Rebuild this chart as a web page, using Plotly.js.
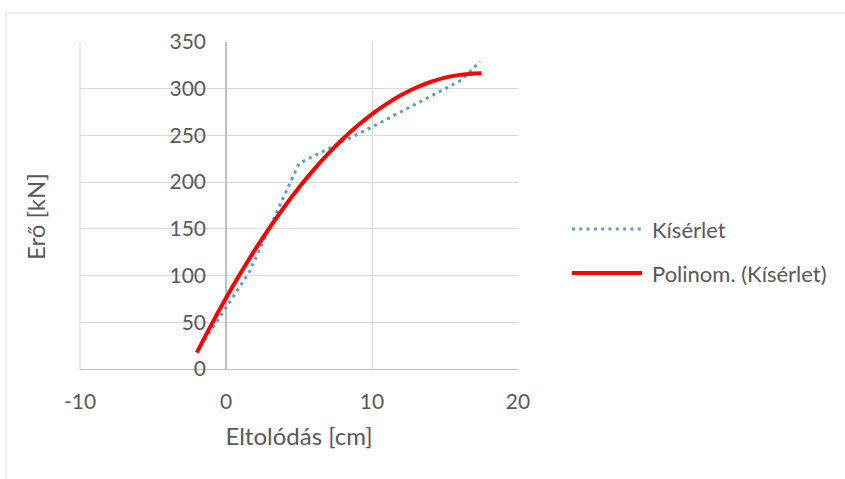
<!DOCTYPE html>
<html>
<head>
<meta charset="utf-8">
<script src="https://cdn.plot.ly/plotly-3.0.1.min.js"></script>
<style>html,body{margin:0;padding:0;background:#fff;}#chart{width:845px;height:479px;}</style>
</head>
<body>
<div id="chart"></div>
<script>
// Measured series: "Kísérlet"
const expX = [-2.0, 1.6, 5.0, 10.0, 16.1, 17.4];
const expY = [18, 104, 220, 259, 309, 329];
// Polynomial trendline values
const fitX = [-2, -1, 0, 1, 2, 3, 4, 5, 6, 7, 8, 9, 10, 11, 12, 13, 14, 15, 16, 17, 17.5];
const fitY = [17.5, 47.5, 75.9, 102.7, 128.0, 151.6, 173.7, 194.2, 213.1, 230.4, 246.2, 260.3, 272.9, 283.8, 293.2, 301.0, 307.2, 311.9, 314.8, 316.3, 316.6];
const seriesNames = ["Kísérlet", "Polinom. (Kísérlet)"];
const xTicks = [-10, 0, 10, 20];
const yTicks = [0, 50, 100, 150, 200, 250, 300, 350];
const xTitle = "Eltolódás [cm]";
const yTitle = "Erő [kN]";

const FONT = "Lato, 'Open Sans', sans-serif";
const TXT = "#595959";
const L = 80, R = 518, T = 42, B = 369;
const px = v => (v - L) / (R - L);
const py = v => (B - v) / (B - T);

const traces = [
  {x: expX, y: expY, name: seriesNames[0], mode: 'lines', showlegend: false,
   line: {color: '#5B9BD5', width: 3, dash: '3px,4.3px'}},
  {x: fitX, y: fitY, name: seriesNames[1], mode: 'lines', showlegend: false,
   line: {color: '#FF0000', width: 4, shape: 'spline'}}
];

const layout = {
  width: 845, height: 479,
  margin: {l: L, r: 845 - R, t: T, b: 479 - B},
  paper_bgcolor: '#fff', plot_bgcolor: '#fff',
  font: {family: FONT, color: TXT, size: 21},
  showlegend: false,
  xaxis: {
    range: [-10, 20], tickvals: xTicks, ticktext: xTicks.map(String),
    showgrid: true, gridcolor: '#D9D9D9', gridwidth: 1,
    zeroline: true, zerolinecolor: '#BFBFBF', zerolinewidth: 1.3,
    showline: true, linecolor: '#BFBFBF', linewidth: 1.3,
    ticks: '', ticklabelstandoff: 13,
    tickfont: {family: FONT, color: TXT, size: 21},
    title: {text: xTitle, font: {family: FONT, color: TXT, size: 24}, standoff: 16}
  },
  yaxis: {
    range: [0, 350], tickvals: yTicks, ticktext: yTicks.map(String),
    anchor: 'free', position: 1/3,
    showgrid: true, gridcolor: '#D9D9D9', gridwidth: 1,
    zeroline: false, showline: false,
    ticks: '', ticklabelstandoff: 20,
    tickfont: {family: FONT, color: TXT, size: 21}
  },
  shapes: [
    {type: 'rect', xref: 'paper', yref: 'paper', x0: px(6), x1: px(900), y0: py(520), y1: py(13),
     line: {color: '#D9D9D9', width: 1}, fillcolor: 'rgba(0,0,0,0)', layer: 'below'},
    {type: 'line', xref: 'paper', yref: 'paper', x0: px(80), x1: px(80), y0: 0, y1: 1,
     line: {color: '#D9D9D9', width: 1}, layer: 'below'},
    {type: 'line', xref: 'paper', yref: 'paper', x0: px(572), x1: px(642), y0: py(229), y1: py(229),
     line: {color: '#5B9BD5', width: 3, dash: '3px,4.3px'}},
    {type: 'line', xref: 'paper', yref: 'paper', x0: px(572), x1: px(642), y0: py(273), y1: py(273),
     line: {color: '#FF0000', width: 4}}
  ],
  annotations: [
    {xref: 'paper', yref: 'paper', x: px(35), y: py(217), text: yTitle, textangle: -90,
     showarrow: false, xanchor: 'center', yanchor: 'middle', font: {family: FONT, color: TXT, size: 24}},
    {xref: 'paper', yref: 'paper', x: px(650), y: py(229), text: seriesNames[0],
     showarrow: false, xanchor: 'left', yanchor: 'middle', font: {family: FONT, color: TXT, size: 22}},
    {xref: 'paper', yref: 'paper', x: px(650), y: py(273), text: seriesNames[1],
     showarrow: false, xanchor: 'left', yanchor: 'middle', font: {family: FONT, color: TXT, size: 22}}
  ]
};

Plotly.newPlot('chart', traces, layout, {displayModeBar: false, staticPlot: true});
</script>
</body>
</html>
